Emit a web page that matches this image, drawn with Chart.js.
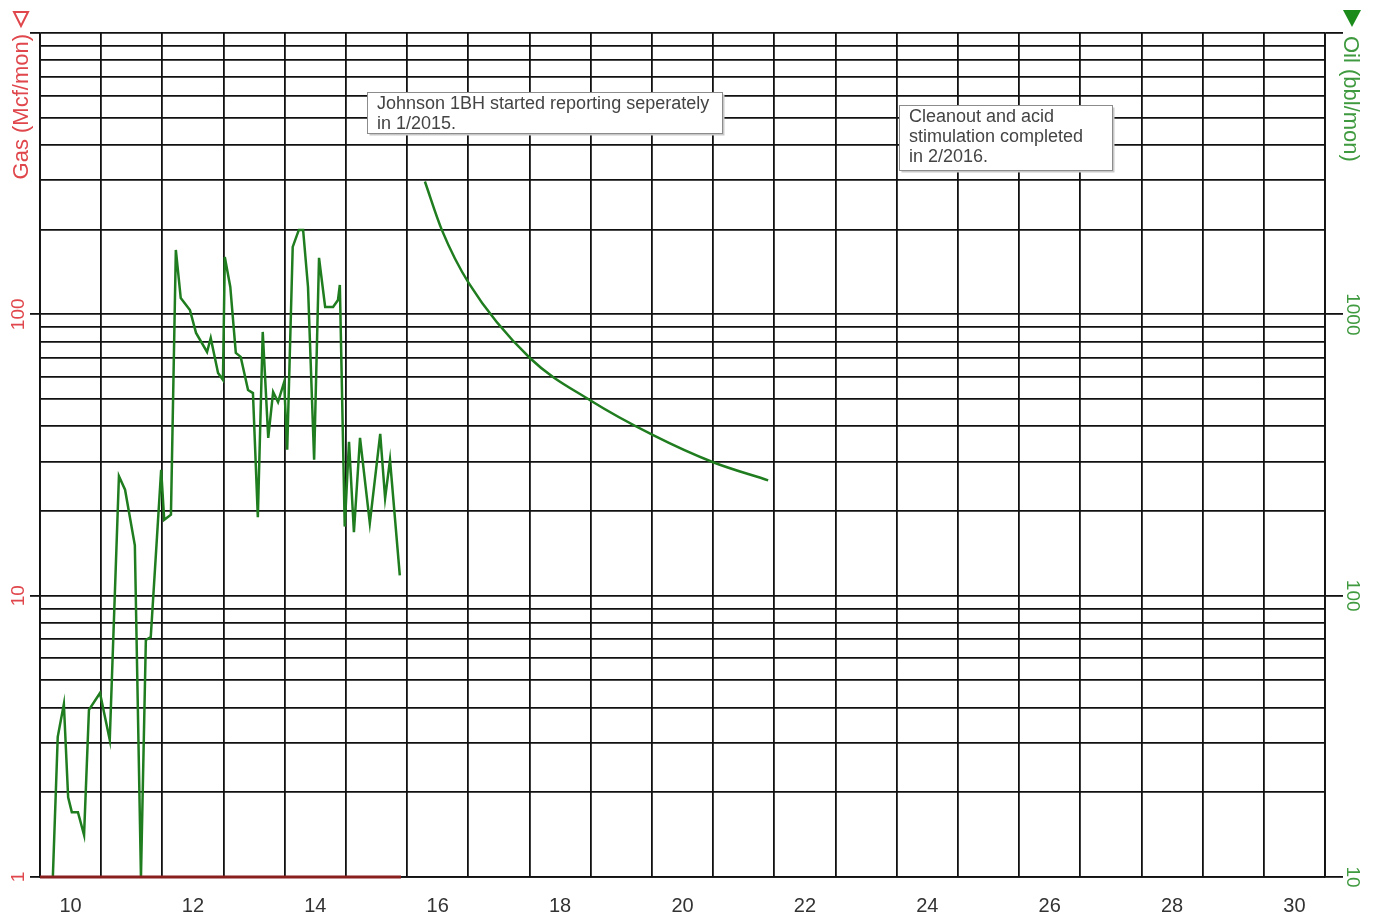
<!DOCTYPE html>
<html>
<head>
<meta charset="utf-8">
<script src="https://cdn.jsdelivr.net/npm/chart.js@4.4.0/dist/chart.umd.min.js"></script>
<style>
  html, body { margin: 0; padding: 0; background: #fff; }
  #wrap { width: 1384px; height: 923px; position: relative; }
</style>
</head>
<body>
<div id="wrap"><canvas id="chart"></canvas></div>
<script>
// x axis: years, labels shown mid-year for even years
const xTickYears = [2010, 2012, 2014, 2016, 2018, 2020, 2022, 2024, 2026, 2028, 2030];
const xTickLabels = ['10', '12', '14', '16', '18', '20', '22', '24', '26', '28', '30'];

// log axes (decade majors + labels)
const gasMajors = [1, 10, 100, 1000];
const gasTickLabels = ['1', '10', '100'];
const oilMajors = [10, 100, 1000, 10000];
const oilTickLabels = ['10', '100', '1000'];

// oil history (bbl/mon)
const oilDates = [2010.21, 2010.29, 2010.39, 2010.46, 2010.52, 2010.62, 2010.72, 2010.80, 2010.98, 2011.14,
  2011.29, 2011.39, 2011.55, 2011.65, 2011.73, 2011.81, 2011.98, 2012.03, 2012.14, 2012.22,
  2012.30, 2012.45, 2012.55, 2012.73, 2012.79, 2012.91, 2012.99, 2013.02, 2013.11, 2013.20,
  2013.28, 2013.40, 2013.48, 2013.56, 2013.64, 2013.73, 2013.81, 2013.89, 2013.99, 2014.04,
  2014.13, 2014.23, 2014.30, 2014.38, 2014.48, 2014.56, 2014.66, 2014.79, 2014.87, 2014.90,
  2014.98, 2015.05, 2015.13, 2015.23, 2015.39, 2015.56, 2015.64, 2015.72, 2015.88];
const oilValues = [10, 31.5, 41.2, 19.2, 17.0, 17.0, 14.1, 39.3, 45.1, 30.7,
  266, 238, 151, 10, 69.6, 71.3, 280, 186, 194, 1694,
  1143, 1036, 859, 735, 824, 619, 585, 1600, 1251, 729,
  706, 538, 525, 190, 866, 364, 530, 488, 575, 330,
  1736, 1995, 1995, 1251, 304, 1587, 1062, 1062, 1125, 1272,
  176, 352, 168, 364, 181, 376, 222, 304, 118];

// oil decline after cleanout
const forecastDates = [2016.29, 2016.57, 2017.01, 2018.01, 2018.99, 2020.02, 2021.00, 2021.90];
const forecastValues = [2966, 1988, 1288, 698, 495, 372, 298, 257];

// gas (Mcf/mon)
const gasDates = [2010.0, 2015.9];
const gasValues = [1, 1];

const notes = [
  { x0: 2015.34, x1: 2021.15, y0: 6175, y1: 4416,
    lines: ['Johnson 1BH started reporting seperately', 'in 1/2015.'] },
  { x0: 2024.04, x1: 2027.52, y0: 5550, y1: 3261,
    lines: ['Cleanout and acid', 'stimulation completed', 'in 2/2016.'] }
];

const FONT = '"Liberation Sans", Arial, sans-serif';
const GAS_COLOR = '#e0474c';
const OIL_COLOR = '#3f9a3f';
const LINE_GREEN = '#1f7d1f';
const GRID = '#111111';

function decadeGrid(min, max) {
  const out = [];
  for (let d = min; d < max; d *= 10) {
    for (let k = 1; k <= 9; k++) out.push(d * k);
  }
  out.push(max);
  return out;
}

const pts = (xs, ys) => xs.map((x, i) => ({ x: x, y: ys[i] }));

const overlay = {
  id: 'overlay',
  afterDraw(chart) {
    const ctx = chart.ctx;
    const xs = chart.scales.x, yg = chart.scales.yGas, yo = chart.scales.yOil;
    ctx.save();

    // rotated y tick labels
    ctx.font = '19px ' + FONT;
    ctx.textAlign = 'center';
    ctx.textBaseline = 'middle';
    gasTickLabels.forEach((t, i) => {
      ctx.save();
      ctx.translate(yg.right - 21, yg.getPixelForValue(gasMajors[i]));
      ctx.rotate(-Math.PI / 2);
      ctx.fillStyle = GAS_COLOR;
      ctx.fillText(t, 0, 0);
      ctx.restore();
    });
    oilTickLabels.forEach((t, i) => {
      ctx.save();
      ctx.translate(yo.left + 27, yo.getPixelForValue(oilMajors[i]));
      ctx.rotate(Math.PI / 2);
      ctx.fillStyle = OIL_COLOR;
      ctx.fillText(t, 0, 0);
      ctx.restore();
    });

    // axis titles
    ctx.font = '22px ' + FONT;
    ctx.save();
    ctx.translate(yg.right - 18, chart.chartArea.top + 1);
    ctx.rotate(-Math.PI / 2);
    ctx.textAlign = 'right';
    ctx.fillStyle = GAS_COLOR;
    ctx.fillText('Gas (Mcf/mon)', 0, 0);
    ctx.restore();

    ctx.save();
    ctx.translate(yo.left + 25, chart.chartArea.top + 3);
    ctx.rotate(Math.PI / 2);
    ctx.textAlign = 'left';
    ctx.fillStyle = OIL_COLOR;
    ctx.fillText('Oil (bbl/mon)', 0, 0);
    ctx.restore();

    // series markers next to titles
    const gx = yg.right - 19, ox = yo.left + 27;
    ctx.strokeStyle = GAS_COLOR;
    ctx.lineWidth = 2;
    ctx.beginPath();
    ctx.moveTo(gx - 7, 12); ctx.lineTo(gx + 7, 12); ctx.lineTo(gx, 26); ctx.closePath();
    ctx.stroke();
    ctx.fillStyle = '#1a8a1a';
    ctx.beginPath();
    ctx.moveTo(ox - 9, 10); ctx.lineTo(ox + 9, 10); ctx.lineTo(ox, 27); ctx.closePath();
    ctx.fill();

    // annotation boxes
    ctx.font = '18px ' + FONT;
    ctx.textAlign = 'left';
    ctx.textBaseline = 'middle';
    notes.forEach(n => {
      const l = Math.round(xs.getPixelForValue(n.x0)) + 0.5;
      const r = Math.round(xs.getPixelForValue(n.x1)) + 0.5;
      const t = Math.round(yo.getPixelForValue(n.y0)) + 0.5;
      const b = Math.round(yo.getPixelForValue(n.y1)) + 0.5;
      ctx.fillStyle = '#c8c8c8';
      ctx.fillRect(l + 2, t + 2, r - l, b - t);
      ctx.fillStyle = '#ffffff';
      ctx.fillRect(l, t, r - l, b - t);
      ctx.strokeStyle = '#8c8c8c';
      ctx.lineWidth = 1;
      ctx.strokeRect(l, t, r - l, b - t);
      ctx.fillStyle = '#444444';
      n.lines.forEach((s, i) => ctx.fillText(s, l + 9.5, t + 11.5 + i * 20));
    });

    ctx.restore();
  }
};

new Chart(document.getElementById('chart'), {
  type: 'line',
  data: {
    datasets: [
      {
        label: 'Gas',
        data: pts(gasDates, gasValues),
        yAxisID: 'yGas',
        borderColor: '#8a1f1f',
        borderWidth: 3,
        pointRadius: 0,
        tension: 0,
        clip: false
      },
      {
        label: 'Oil',
        data: pts(oilDates, oilValues),
        yAxisID: 'yOil',
        borderColor: LINE_GREEN,
        borderWidth: 2.5,
        pointRadius: 0,
        tension: 0
      },
      {
        label: 'Oil forecast',
        data: pts(forecastDates, forecastValues),
        yAxisID: 'yOil',
        borderColor: LINE_GREEN,
        borderWidth: 2.5,
        pointRadius: 0,
        cubicInterpolationMode: 'monotone'
      }
    ]
  },
  options: {
    responsive: true,
    maintainAspectRatio: false,
    animation: false,
    layout: { padding: { top: 33, left: 0, right: 0, bottom: 0 } },
    plugins: {
      legend: { display: false },
      tooltip: { enabled: false }
    },
    scales: {
      x: {
        type: 'linear',
        min: 2010,
        max: 2031,
        afterFit: s => { s.height = 46; },
        afterBuildTicks: s => {
          const ticks = [];
          for (let v = 2010; v <= 2031; v++) ticks.push({ value: v });
          s.ticks = ticks;
        },
        grid: { color: GRID, lineWidth: 1.8, drawTicks: false },
        border: { display: true, color: GRID, width: 1.8 },
        ticks: {
          autoSkip: false,
          maxRotation: 0,
          padding: 17,
          labelOffset: 30.6,
          color: '#333',
          font: { family: FONT, size: 20 },
          callback: v => {
            const i = xTickYears.indexOf(v);
            return i >= 0 ? xTickLabels[i] : '';
          }
        }
      },
      yGas: {
        type: 'logarithmic',
        position: 'left',
        min: 1,
        max: 1000,
        afterFit: s => { s.width = 40; },
        afterBuildTicks: s => {
          s.ticks = decadeGrid(1, 1000).map(v => ({ value: v, major: gasMajors.includes(v) }));
        },
        grid: {
          color: GRID,
          lineWidth: 1.8,
          drawTicks: true,
          tickLength: 10,
          tickColor: c => (c.tick && gasMajors.includes(c.tick.value)) ? GRID : 'rgba(0,0,0,0)'
        },
        border: { display: true, color: GRID, width: 1.8 },
        ticks: { display: false }
      },
      yOil: {
        type: 'logarithmic',
        position: 'right',
        min: 10,
        max: 10000,
        afterFit: s => { s.width = 59; },
        afterBuildTicks: s => {
          s.ticks = oilMajors.map(v => ({ value: v, major: true }));
        },
        grid: {
          drawOnChartArea: false,
          drawTicks: true,
          tickLength: 18,
          color: GRID,
          tickColor: GRID,
          lineWidth: 1.8
        },
        border: { display: true, color: GRID, width: 1.8 },
        ticks: { display: false }
      }
    }
  },
  plugins: [overlay]
});
</script>
</body>
</html>
